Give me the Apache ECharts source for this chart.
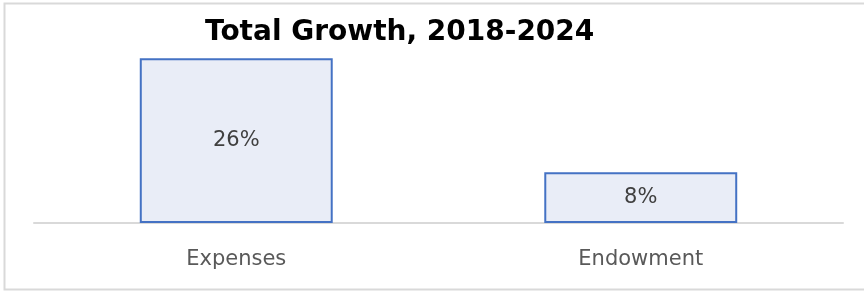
<!DOCTYPE html>
<html>
<head>
<meta charset="utf-8">
<script src="https://cdn.jsdelivr.net/npm/echarts@6/dist/echarts.min.js"></script>
<style>
  html, body { margin: 0; padding: 0; background: #fff; }
  #chart { width: 864px; height: 293px; }
</style>
</head>
<body>
<div id="chart"></div>
<script>
  // chart data
  var categories = ['Expenses', 'Endowment'];
  var growth = [26, 8];

  var chart = echarts.init(document.getElementById('chart'));
  var option = {
    animation: false,
    title: {
      text: 'Total Growth, 2018-2024',
      left: 200,
      top: 14,
      textStyle: {
        fontFamily: 'DejaVu Sans',
        fontWeight: 'bold',
        fontSize: 28,
        color: '#000'
      }
    },
    graphic: [{
      type: 'rect',
      shape: { x: 4.5, y: 3.5, width: 900, height: 286 },
      style: { fill: 'none', stroke: '#d9d9d9', lineWidth: 2 },
      silent: true
    }],
    grid: { left: 34, right: 21, top: 33, bottom: 70 },
    xAxis: {
      type: 'category',
      data: categories,
      axisTick: { show: false },
      axisLine: { lineStyle: { color: '#d9d9d9', width: 2 } },
      axisLabel: {
        color: '#595959',
        fontFamily: 'DejaVu Sans',
        fontSize: 21,
        margin: 26
      }
    },
    yAxis: {
      type: 'value',
      min: 0,
      max: 30,
      show: false,
      splitLine: { show: false }
    },
    series: [{
      type: 'bar',
      data: growth,
      barWidth: '47.7%',
      itemStyle: { color: '#e9edf7', borderColor: '#4472c4', borderWidth: 2 },
      label: {
        show: true,
        position: 'inside',
        formatter: '{c}%',
        color: '#404040',
        fontFamily: 'DejaVu Sans',
        fontSize: 21
      }
    }]
  };
  chart.setOption(option);
</script>
</body>
</html>
